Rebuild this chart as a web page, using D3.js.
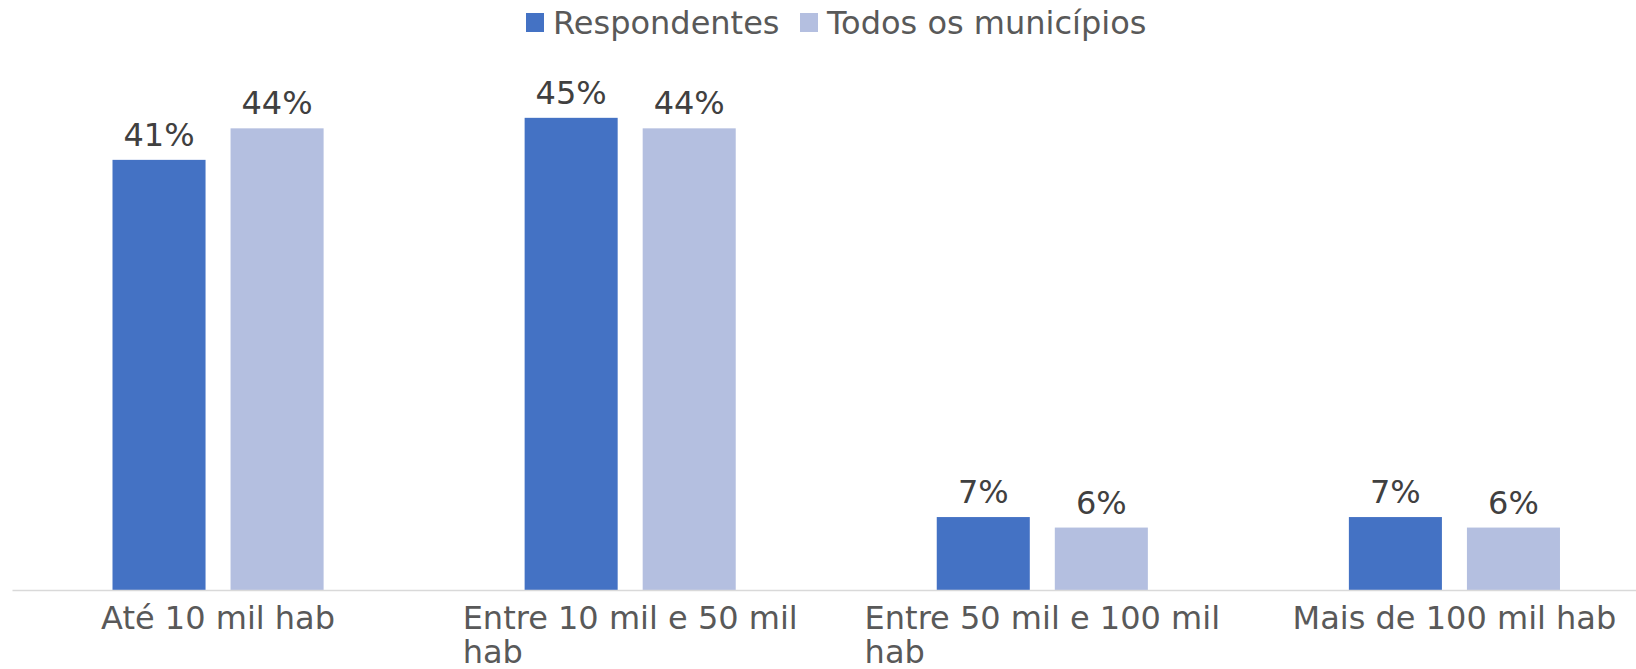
<!DOCTYPE html>
<html>
<head>
<meta charset="utf-8">
<script src="https://cdn.jsdelivr.net/npm/d3@7"></script>
<style>
  body { margin: 0; background: #fff; }
  text { font-family: "DejaVu Sans", sans-serif; }
</style>
</head>
<body>
<script>
// data
var categories = ['Até 10 mil hab', 'Entre 10 mil e 50 mil hab', 'Entre 50 mil e 100 mil hab', 'Mais de 100 mil hab'];
var seriesNames = ['Respondentes', 'Todos os municípios'];
var respondentes = [41, 45, 7, 7];
var todos = [44, 44, 6, 6];
var colors = ['#4472C4', '#B4BFE0'];

var width = 1636, height = 669;
var baseY = 590.6;

var svg = d3.select('body').append('svg')
  .attr('width', width)
  .attr('height', height);

var x0 = d3.scaleBand()
  .domain(categories)
  .range([12, 1660.5]);

var x1 = d3.scaleBand()
  .domain(seriesNames)
  .range([100.5, 311.6])
  .paddingInner(25 / 118);

var y = d3.scaleLinear()
  .domain([0, 50])
  .range([baseY, 65.3]);

var rows = categories.map(function(c, i){
  return { cat: c, vals: [respondentes[i], todos[i]] };
});

var groups = svg.selectAll('g.grp')
  .data(rows)
  .enter()
  .append('g')
  .attr('class', 'grp')
  .attr('transform', function(d){ return 'translate(' + x0(d.cat) + ',0)'; });

groups.selectAll('rect')
  .data(function(d){ return d.vals.map(function(v, j){ return { s: seriesNames[j], v: v, j: j }; }); })
  .enter()
  .append('rect')
  .attr('x', function(d){ return x1(d.s); })
  .attr('y', function(d){ return y(d.v); })
  .attr('width', x1.bandwidth())
  .attr('height', function(d){ return baseY - y(d.v); })
  .style('fill', function(d){ return colors[d.j]; });

groups.selectAll('text.val')
  .data(function(d){ return d.vals.map(function(v, j){ return { s: seriesNames[j], v: v }; }); })
  .enter()
  .append('text')
  .attr('class', 'val')
  .attr('x', function(d){ return x1(d.s) + x1.bandwidth() / 2; })
  .attr('y', function(d){ return y(d.v) - 14; })
  .attr('text-anchor', 'middle')
  .style('font-size', '32px')
  .style('fill', '#404040')
  .text(function(d){ return d.v + '%'; });

// axis line
svg.append('line')
  .attr('x1', 12.5).attr('x2', width)
  .attr('y1', baseY).attr('y2', baseY)
  .style('stroke', '#D9D9D9')
  .style('stroke-width', 1.5);

// category labels, wrapped, block centred with left-aligned lines
var maxW = 370;
categories.forEach(function(c){
  var cx = x0(c) + x0.bandwidth() / 2;
  var t = svg.append('text')
    .style('font-size', '32px')
    .style('fill', '#595959');
  var words = c.split(' '), lines = [], cur = '';
  var probe = t.append('tspan');
  words.forEach(function(w){
    var test = cur ? cur + ' ' + w : w;
    probe.text(test);
    if (probe.node().getComputedTextLength() > maxW && cur) {
      lines.push(cur);
      cur = w;
    } else {
      cur = test;
    }
  });
  lines.push(cur);
  probe.text(lines[0]);
  var w0 = probe.node().getComputedTextLength();
  probe.remove();
  lines.forEach(function(l, k){
    t.append('tspan')
      .attr('x', cx - w0 / 2)
      .attr('y', 629 + k * 34)
      .text(l);
  });
});

// legend
var legX = [526, 800];
seriesNames.forEach(function(s, i){
  svg.append('rect')
    .attr('x', legX[i]).attr('y', 13)
    .attr('width', 18).attr('height', 19)
    .style('fill', colors[i]);
  svg.append('text')
    .attr('x', legX[i] + 27)
    .attr('y', 34)
    .style('font-size', '32px')
    .style('fill', '#595959')
    .text(s);
});
</script>
</body>
</html>
